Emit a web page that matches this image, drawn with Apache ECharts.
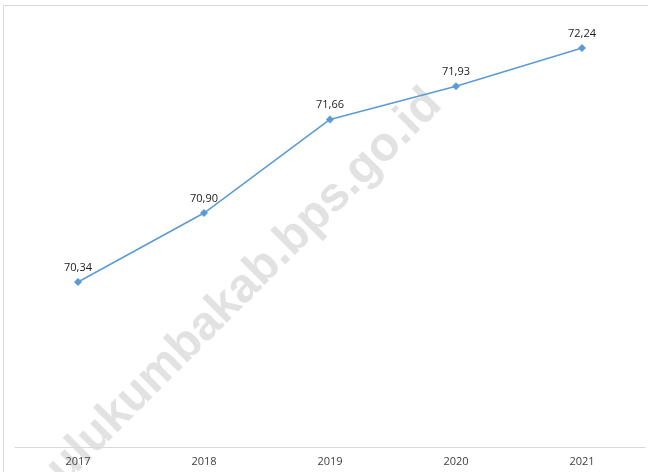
<!DOCTYPE html>
<html>
<head>
<meta charset="utf-8">
<script src="https://cdn.jsdelivr.net/npm/echarts@6/dist/echarts.min.js"></script>
<style>
  html, body { margin: 0; padding: 0; background: #fff; }
  #chart { width: 648px; height: 472px; }
</style>
</head>
<body>
<div id="chart"></div>
<script>
// Years and yearly values
var years = ['2017', '2018', '2019', '2020', '2021'];
var values = [70.34, 70.90, 71.66, 71.93, 72.24];
var watermarkText = 'bulukumbakab.bps.go.id';

var chart = echarts.init(document.getElementById('chart'), null, { renderer: 'canvas' });

function fmt(v) {
  return v.toFixed(2).replace('.', ',');
}

chart.setOption({
  animation: false,
  backgroundColor: '#ffffff',
  grid: { left: 15, right: 3, top: 16, bottom: 25, containLabel: false },
  graphic: [
    // frame lines
    { type: 'line', z: 0, shape: { x1: 3.5, y1: 5.5, x2: 648, y2: 5.5 }, style: { stroke: '#d9d9d9', lineWidth: 1 } },
    { type: 'line', z: 0, shape: { x1: 3.5, y1: 5.5, x2: 3.5, y2: 472 }, style: { stroke: '#d9d9d9', lineWidth: 1 } },
    // watermark
    {
      type: 'text', z: 0, silent: true,
      x: 434, y: 97, rotation: Math.PI / 4,
      style: {
        text: watermarkText,
        fill: '#e2e2e2',
        font: 'bold 48px "Liberation Sans", Arial, sans-serif',
        textAlign: 'right',
        textVerticalAlign: 'middle'
      }
    }
  ],
  xAxis: {
    type: 'category',
    data: years,
    boundaryGap: true,
    axisLine: { lineStyle: { color: '#d9d9d9', width: 1 } },
    axisTick: { show: false },
    axisLabel: { color: '#404040', fontSize: 11, margin: 9, fontFamily: '"Open Sans", sans-serif' }
  },
  yAxis: {
    type: 'value',
    min: 69,
    max: 72.5,
    interval: 0.5,
    show: false,
    splitLine: { show: false }
  },
  series: [{
    type: 'line',
    data: values,
    z: 5,
    symbol: 'diamond',
    symbolSize: 8,
    lineStyle: { color: '#5b9bd5', width: 1.5 },
    itemStyle: { color: '#5b9bd5' },
    label: {
      show: true,
      position: 'top',
      distance: 5,
      color: '#1a1a1a',
      fontSize: 11,
      fontFamily: '"Open Sans", sans-serif',
      formatter: function (p) { return fmt(p.value); }
    }
  }]
});
</script>
</body>
</html>
